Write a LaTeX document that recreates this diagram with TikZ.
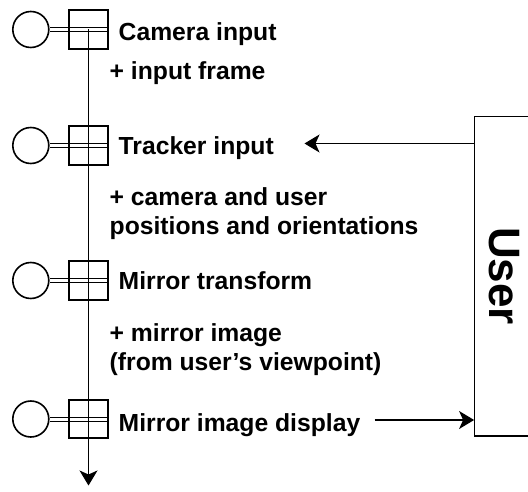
\documentclass[tikz,border=0pt]{standalone}
\usepackage{fontspec}
\setmainfont{Liberation Sans}
\usetikzlibrary{arrows.meta}
\begin{document}
\begin{tikzpicture}[x=1pt,y=-1pt,
  port/.style={circle,draw,line width=1.6pt,minimum size=36pt,inner sep=0pt},
  stepbox/.style={rectangle,draw,line width=1.6pt,minimum size=38.5pt,inner sep=0pt},
  lbl/.style={anchor=base west,inner sep=0pt,font=\fontsize{24.7}{28.4}\selectfont\bfseries},
  conn/.style={line width=1.3pt,-{Stealth[length=15pt,width=18pt,inset=4pt]}},
  dbl/.style={line width=0.9pt}]
\useasboundingbox (0,0) rectangle (528,492);
% ports and step boxes
\foreach \i/\y in {1/29.5,2/145.5,3/280.5,4/419}{
  \node[port] (c\i) at (30.8,\y) {};
  \node[stepbox] (s\i) at (88.5,\y) {};
  \draw[dbl] ([yshift=2pt]c\i.east) -- ([yshift=2pt]s\i.east);
  \draw[dbl] ([yshift=-2pt]c\i.east) -- ([yshift=-2pt]s\i.east);
}
% main flow line
\coordinate (flowend) at (88.5,485.5);
\draw[conn] (s1.center) -- (flowend);
% labels
\node[lbl] (t1) at (118.5,40.5) {Camera input};
\node[lbl] (a1) at (109.5,79.8) {+ input frame};
\node[lbl] (t2) at (118.5,154.9) {Tracker input};
\node[lbl] (a2a) at (109.5,205.4) {+ camera and user};
\node[lbl] (a2b) at (109.5,234.2) {positions and orientations};
\node[lbl] (t3) at (118.5,289.6) {Mirror transform};
\node[lbl] (a3a) at (109.5,341.8) {+ mirror image};
\node[lbl] (a3b) at (109.5,370.4) {(from user’s viewpoint)};
\node[lbl] (t4) at (118.5,431) {Mirror image display};
% user box
\node[draw,line width=1.3pt,minimum width=59pt,minimum height=319.5pt,inner sep=0pt] (user) at (504.25,276.25) {};
\node[rotate=-90,inner sep=0pt,font=\fontsize{44}{50}\selectfont\bfseries] (usertext) at (504,276) {User};
% connectors
\coordinate (trk) at (304.5,143.5);
\draw[conn] (user.west |- trk) -- (trk);
\coordinate (dsp) at (374.5,420);
\draw[conn] (dsp) -- (dsp -| user.west);
\end{tikzpicture}
\end{document}
